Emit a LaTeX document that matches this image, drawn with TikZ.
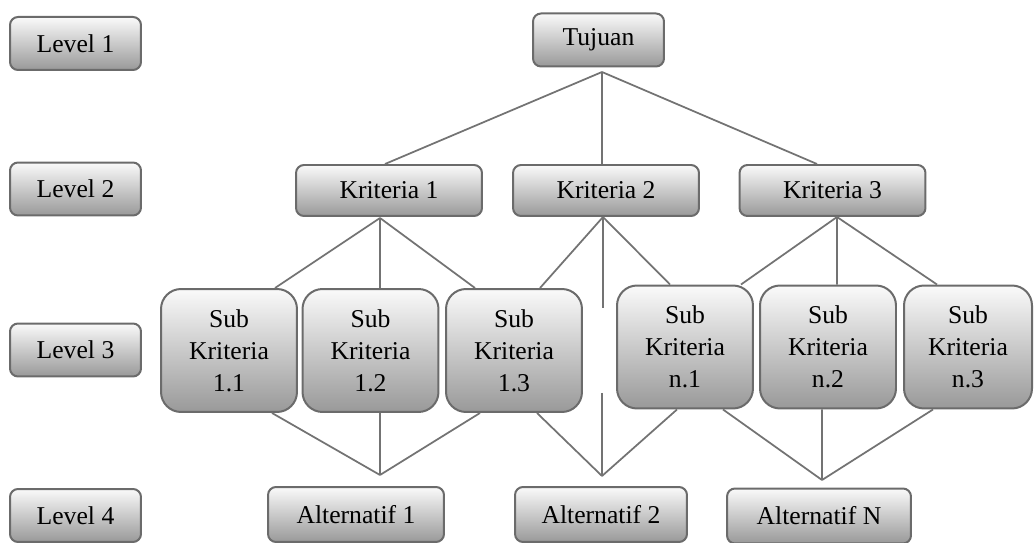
\documentclass[tikz,border=0pt]{standalone}
\usepackage{fontspec}
\setmainfont{Liberation Serif}
\usepackage{tikz}

\definecolor{boxline}{HTML}{6B6B6B}
\definecolor{conline}{HTML}{737373}

\tikzset{
  shadebox/.style={draw=boxline, line width=0.04cm, top color=black!2, bottom color=black!40,
    rounded corners=0.16cm, inner sep=0pt, align=center, font=\fontsize{14.6}{18.2}\selectfont},
  levelbox/.style={shadebox, minimum width=2.62cm, minimum height=1.06cm},
  kritbox/.style={shadebox, minimum width=3.72cm, minimum height=1.02cm},
  subbox/.style={shadebox, rounded corners=0.4cm, minimum width=2.72cm, minimum height=2.46cm},
  altbox/.style={shadebox, minimum height=1.1cm},
  link/.style={draw=conline, line width=0.035cm}
}

\begin{document}
\begin{tikzpicture}[x=0.02cm, y=-0.02cm]
        \useasboundingbox (0,0) rectangle (1034,543);

        % Level labels on the left
        \node[levelbox] (lv1) at (75.5,43.5) {Level 1};
        \node[levelbox] (lv2) at (75.5,189) {Level 2};
        \node[levelbox] (lv3) at (75.5,350) {Level 3};
        \node[levelbox] (lv4) at (75.5,515.5) {Level 4};

        % Goal
        \node[levelbox] (tujuan) at (598.5,40) {Tujuan};

        % Criteria
        \node[kritbox] (k1) at (389,190.5) {Kriteria 1};
        \node[kritbox] (k2) at (606,190.5) {Kriteria 2};
        \node[kritbox] (k3) at (832.5,190.5) {Kriteria 3};

        % Sub criteria
        \node[subbox] (s11) at (229,350.5) {Sub\\Kriteria\\1.1};
        \node[subbox] (s12) at (370.5,350.5) {Sub\\Kriteria\\1.2};
        \node[subbox] (s13) at (514,350.5) {Sub\\Kriteria\\1.3};
        \node[subbox] (sn1) at (685,347) {Sub\\Kriteria\\n.1};
        \node[subbox] (sn2) at (828,347) {Sub\\Kriteria\\n.2};
        \node[subbox, minimum width=2.56cm] (sn3) at (968,347) {Sub\\Kriteria\\n.3};

        % Alternatives
        \node[altbox, minimum width=3.52cm] (a1) at (356,514.5) {Alternatif 1};
        \node[altbox, minimum width=3.44cm] (a2) at (601,514.5) {Alternatif 2};
        \node[altbox, minimum width=3.68cm] (aN) at (819,516) {Alternatif N};

        % Meeting points of the lines
        \coordinate (tj) at (602,72);
        \coordinate (k1b) at (380,218);
        \coordinate (k2b) at (603,217);
        \coordinate (k3b) at (837,217);
        \coordinate (gapt) at (603,308);
        \coordinate (gapb) at (602,393);
        \coordinate (a1t) at (380,475);
        \coordinate (a2t) at (602,476);
        \coordinate (aNt) at (822,480);

        % Goal to criteria
        \draw[link] (tj) -- ([xshift=-0.08cm]k1.north);
        \draw[link] (tj) -- ([xshift=-0.08cm]k2.north);
        \draw[link] (tj) -- ([xshift=-0.31cm]k3.north);

        % Criteria to sub criteria
        \draw[link] (k1b) -- ([xshift=0.92cm]s11.north);
        \draw[link] (k1b) -- ([xshift=0.19cm]s12.north);
        \draw[link] (k1b) -- ([xshift=-0.78cm]s13.north);
        \draw[link] (k2b) -- ([xshift=0.52cm]s13.north);
        \draw[link] (k2b) -- (gapt);
        \draw[link] (k2b) -- ([xshift=-0.3cm]sn1.north);
        \draw[link] (k3b) -- ([xshift=1.12cm]sn1.north);
        \draw[link] (k3b) -- ([xshift=0.18cm]sn2.north);
        \draw[link] (k3b) -- ([xshift=-0.62cm]sn3.north);

        % Sub criteria to alternatives
        \draw[link] ([xshift=0.86cm]s11.south) -- (a1t);
        \draw[link] ([xshift=0.19cm]s12.south) -- (a1t);
        \draw[link] ([xshift=-0.68cm]s13.south) -- (a1t);
        \draw[link] ([xshift=0.46cm]s13.south) -- (a2t);
        \draw[link] (gapb) -- (a2t);
        \draw[link] ([xshift=-0.16cm]sn1.south) -- (a2t);
        \draw[link] ([xshift=0.76cm]sn1.south) -- (aNt);
        \draw[link] ([xshift=-0.12cm]sn2.south) -- (aNt);
        \draw[link] ([xshift=-0.7cm]sn3.south) -- (aNt);
    \end{tikzpicture}
\end{document}
